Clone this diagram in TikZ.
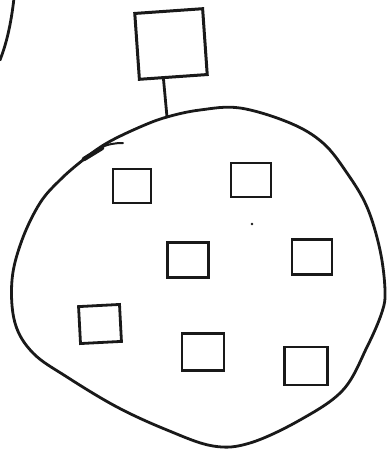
\documentclass[tikz,border=0pt]{standalone}
\usetikzlibrary{calc}
\begin{document}
\begin{tikzpicture}[x=1pt,y=-1pt,
  pen/.style={line width=2.8pt, line cap=round, line join=round, black!90},
  box/.style={draw=black!90, line width=2.8pt, minimum width=40pt, minimum height=35pt, inner sep=0pt},
  bigbox/.style={draw=black!90, line width=3pt, minimum width=68pt, minimum height=66pt, inner sep=0pt}]
\useasboundingbox (0,0) rectangle (386,450);
% outer partial arc at top-left
\draw[pen] (14,-2) .. controls (11,25) and (6,45) .. (0,60);
% big blob
\draw[pen] plot[smooth cycle, tension=0.6] coordinates {
 (12,280) (15,323) (33,353) (67,377) (117,407) (167,430) (213,446) (250,443)
 (300,420) (343,390) (367,347) (382,312) (385,290) (380,250) (367,207)
 (347,173) (323,143) (290,123) (240,108) (200,110) (167,117) (140,127)
 (107,143) (83,160) (60,180) (40,203) (22,240)};
\draw[pen, line width=4.5pt] (84,159) -- (102,148);
\draw[pen, line width=2pt] (100,148) .. controls (108,144) and (115,143) .. (123,143);
\coordinate (j) at (167,117);
% top square and connector
\node[bigbox, rotate=4] (top) at (171,44) {};
\draw[pen] ($(top.south west)!0.36!(top.south east)$) -- (j);
% small squares
\node[box, minimum width=38pt, minimum height=34pt] (s1) at (132,186) {};
\node[box, minimum width=40pt, minimum height=34pt] (s2) at (251,180) {};
\node[box, minimum width=41pt, minimum height=35pt] (s3) at (188,260) {};
\node[box, minimum width=40pt, minimum height=35pt] (s4) at (312,257) {};
\node[box, minimum width=41pt, minimum height=37pt, rotate=3] (s5) at (100,324) {};
\node[box, minimum width=42pt, minimum height=37pt] (s6) at (203,352) {};
\node[box, minimum width=43pt, minimum height=38pt] (s7) at (306,366) {};
\fill[black!90] (252,224) circle (1.3pt);
\end{tikzpicture}
\end{document}
